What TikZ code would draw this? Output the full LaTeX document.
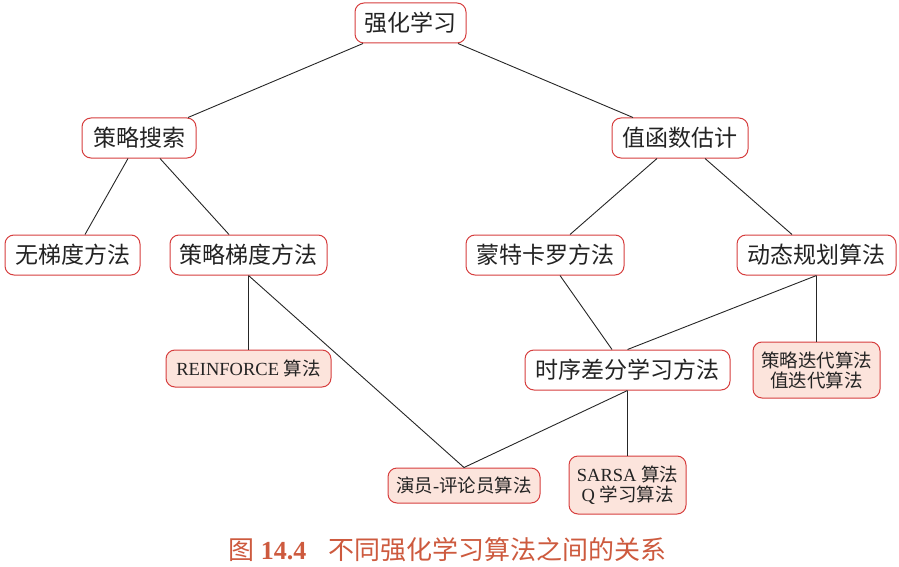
\documentclass[tikz,border=0pt]{standalone}
\usepackage{fontspec}
\setmainfont{Liberation Serif}
\newfontfamily\cjk{Noto Sans CJK SC}
\definecolor{bordred}{RGB}{214,62,62}
\definecolor{leaffill}{RGB}{252,228,220}
\definecolor{captc}{RGB}{205,90,62}
\definecolor{txtc}{RGB}{35,35,35}
\begin{document}
\begin{tikzpicture}[x=1pt,y=-1pt,
  box/.style={draw=bordred, line width=1pt, rounded corners=9pt, fill=white, text=txtc,
    inner sep=0pt, align=center, font=\cjk\fontsize{23}{26}\selectfont},
  leaf/.style={box, fill=leaffill, font=\fontsize{18.5}{22}\selectfont},
  conn/.style={draw=black!85, line width=0.9pt}]
\useasboundingbox (0,0) rectangle (899,567);
% nodes
\node[box, minimum width=111pt, minimum height=40pt] (root) at (410.5,23) {强化学习};
\node[box, minimum width=114pt, minimum height=40pt] (ps) at (139,138) {策略搜索};
\node[box, minimum width=136pt, minimum height=40pt] (vf) at (680,138) {值函数估计};
\node[box, minimum width=135pt, minimum height=40pt] (wt) at (72.5,255) {无梯度方法};
\node[box, minimum width=157pt, minimum height=40pt] (pg) at (248.5,255) {策略梯度方法};
\node[box, minimum width=158pt, minimum height=40pt] (mc) at (545,255) {蒙特卡罗方法};
\node[box, minimum width=159pt, minimum height=40pt] (dp) at (816.5,255) {动态规划算法};
\node[box, minimum width=205pt, minimum height=40pt] (td) at (627.5,370) {时序差分学习方法};
\node[leaf, minimum width=165pt, minimum height=37pt] (rf) at (248.5,368.5) {REINFORCE {\cjk 算法}};
\node[leaf, minimum width=127pt, minimum height=56pt] (pi) at (816.5,370) {{\cjk 策略迭代算法}\\[-2pt]{\cjk 值迭代算法}};
\node[leaf, minimum width=152pt, minimum height=35pt] (ac) at (464,485.5) {{\cjk 演员}-{\cjk 评论员算法}};
\node[leaf, minimum width=117pt, minimum height=58pt] (sq) at (627.5,485) {SARSA {\cjk 算法}\\[-2pt]Q {\cjk 学习算法}};
\node[text=captc, font=\fontsize{26}{30}\selectfont, inner sep=0pt] (cap) at (447.5,550)
  {{\cjk 图} \textbf{14.4}\hspace{0.85em}{\cjk 不同强化学习算法之间的关系}};
% connectors
\draw[conn] ([xshift=-47.5pt]root.south) -- ([xshift=49pt]ps.north);
\draw[conn] ([xshift=47.5pt]root.south) -- ([xshift=-47pt]vf.north);
\draw[conn] ([xshift=-11pt]ps.south) -- ([xshift=12.5pt]wt.north);
\draw[conn] ([xshift=21pt]ps.south) -- ([xshift=-19.5pt]pg.north);
\draw[conn] ([xshift=-23pt]vf.south) -- ([xshift=25pt]mc.north);
\draw[conn] ([xshift=25pt]vf.south) -- ([xshift=-24.5pt]dp.north);
\draw[conn] (pg.south) -- (rf.north);
\draw[conn] (pg.south) -- (ac.north);
\draw[conn] ([xshift=15pt]mc.south) -- ([xshift=-15.5pt]td.north);
\draw[conn] (dp.south) -- (td.north);
\draw[conn] (dp.south) -- (pi.north);
\draw[conn] (td.south) -- (ac.north);
\draw[conn] (td.south) -- (sq.north);
\end{tikzpicture}
\end{document}
